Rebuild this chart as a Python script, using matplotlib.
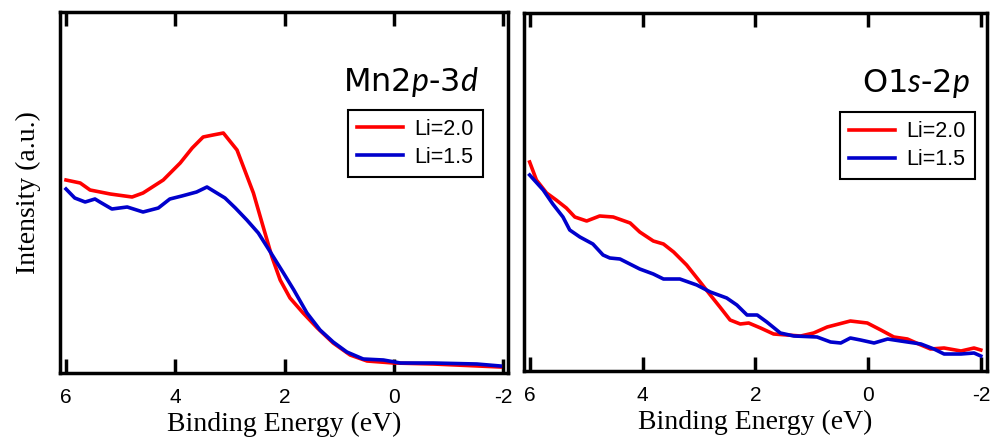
import matplotlib
matplotlib.use("Agg")
import matplotlib.pyplot as plt

# Mn2p-3d panel (binding energy in eV, intensity in arbitrary units)
mn_e_red = [6.0, 5.74, 5.56, 5.19, 4.79, 4.59, 4.22, 3.91, 3.69, 3.49, 3.31, 3.12, 2.87,
            2.57, 2.39, 2.23, 2.08, 1.90, 1.66, 1.40, 1.11, 0.80, 0.49, 0.01, -0.72, -1.95]
mn_red = [193, 190, 183, 179, 176, 180, 193, 210, 225, 236, 238, 240, 223,
          180, 146, 116, 93, 75, 60, 45, 30, 18, 12, 10, 9, 6]
mn_e_blue = [6.0, 5.84, 5.65, 5.47, 5.38, 5.16, 4.88, 4.59, 4.31, 4.10, 3.88, 3.61, 3.42,
             3.27, 3.09, 2.90, 2.69, 2.48, 2.26, 2.02, 1.83, 1.59, 1.35, 1.11, 0.86, 0.56,
             0.19, -0.12, -0.72, -1.52, -1.95]
mn_blue = [184, 175, 171, 174, 171, 164, 166, 161, 165, 174, 177, 181, 186,
           181, 175, 165, 153, 140, 121, 100, 83, 60, 43, 31, 21, 14,
           13, 10, 10, 9, 7]

# O1s-2p panel
o_e_red = [6.0, 5.88, 5.70, 5.53, 5.35, 5.20, 4.99, 4.76, 4.52, 4.22, 4.05, 3.81, 3.63,
           3.45, 3.22, 2.98, 2.80, 2.63, 2.45, 2.27, 2.12, 1.91, 1.68, 1.44, 1.20, 0.97,
           0.73, 0.32, 0.02, -0.22, -0.45, -0.69, -0.93, -1.10, -1.34, -1.64, -1.87, -1.99]
o_red = [209, 191, 178, 171, 163, 154, 150, 155, 154, 148, 139, 130, 127,
         119, 106, 89, 76, 64, 51, 47, 48, 43, 37, 36, 35, 38,
         44, 50, 48, 41, 34, 32, 26, 22, 23, 20, 23, 21]
o_e_blue = [6.0, 5.76, 5.59, 5.41, 5.29, 5.11, 4.88, 4.70, 4.58, 4.40, 4.05, 3.81, 3.63,
            3.34, 3.04, 2.80, 2.51, 2.33, 2.15, 1.97, 1.80, 1.56, 1.32, 0.91, 0.67, 0.49,
            0.32, 0.14, -0.10, -0.34, -0.57, -0.93, -1.16, -1.34, -1.64, -1.87, -1.99]
o_blue = [196, 181, 167, 154, 141, 134, 127, 116, 113, 112, 102, 97, 92,
          92, 86, 79, 73, 66, 56, 56, 49, 38, 35, 34, 29, 28,
          33, 31, 28, 32, 30, 27, 22, 17, 17, 18, 15]

labels = ["Li=2.0", "Li=1.5"]
ticks = [6, 4, 2, 0, -2]

plt.rcParams['mathtext.fontset'] = 'custom'
plt.rcParams['mathtext.rm'] = 'Lato'
plt.rcParams['mathtext.it'] = 'Lato:italic'

fig = plt.figure(figsize=(9.92, 4.41), dpi=100)
W, H = 992, 441
ax1 = fig.add_axes([60 / W, (H - 373) / H, 448 / W, 361 / H])
ax2 = fig.add_axes([524 / W, (H - 371) / H, 463 / W, 358 / H])

panels = [
    (ax1, mn_e_red, mn_red, mn_e_blue, mn_blue, (6.11, -2.09), 361,
     r'Mn2$\it{p}$-3$\it{d}$', (0.944, 0.729)),
    (ax2, o_e_red, o_red, o_e_blue, o_blue, (6.1, -2.1), 358,
     r'O1$\it{s}$-2$\it{p}$', (0.974, 0.723)),
]

for ax, er, r, eb, b, xl, ytop, title, anchor in panels:
    ax.plot(er, r, color='#ff0000', lw=2.6, label=labels[0])
    ax.plot(eb, b, color='#0000cc', lw=2.6, label=labels[1])
    ax.set_xlim(*xl)
    ax.set_ylim(0, ytop)
    ax.set_xticks(ticks)
    ax.set_xticklabels(['6', '4', '2', '0', '-2'], family='Liberation Sans', fontsize=15)
    ax.set_yticks([])
    ax.tick_params(axis='x', direction='in', length=10, width=2.5, top=True, pad=11)
    for s in ax.spines.values():
        s.set_linewidth(2.5)
    ax.set_xlabel('Binding Energy (eV)', family='Liberation Serif', fontsize=20, labelpad=3)
    ax.text(anchor[0] - 0.01, 0.78, title, transform=ax.transAxes, ha='right',
            va='baseline', fontsize=23)
    leg = ax.legend(loc='upper right', bbox_to_anchor=anchor, borderaxespad=0,
                    prop={'family': 'Liberation Sans', 'size': 15.5}, fancybox=False,
                    handlelength=2.1, handletextpad=0.55, labelspacing=0.32,
                    borderpad=0.42, framealpha=1)
    leg.get_frame().set_edgecolor('black')
    leg.get_frame().set_linewidth(1.5)

ax1.set_ylabel('Intensity (a.u.)', family='Liberation Serif', fontsize=20, labelpad=14)

fig.savefig('out.png', dpi=100)
